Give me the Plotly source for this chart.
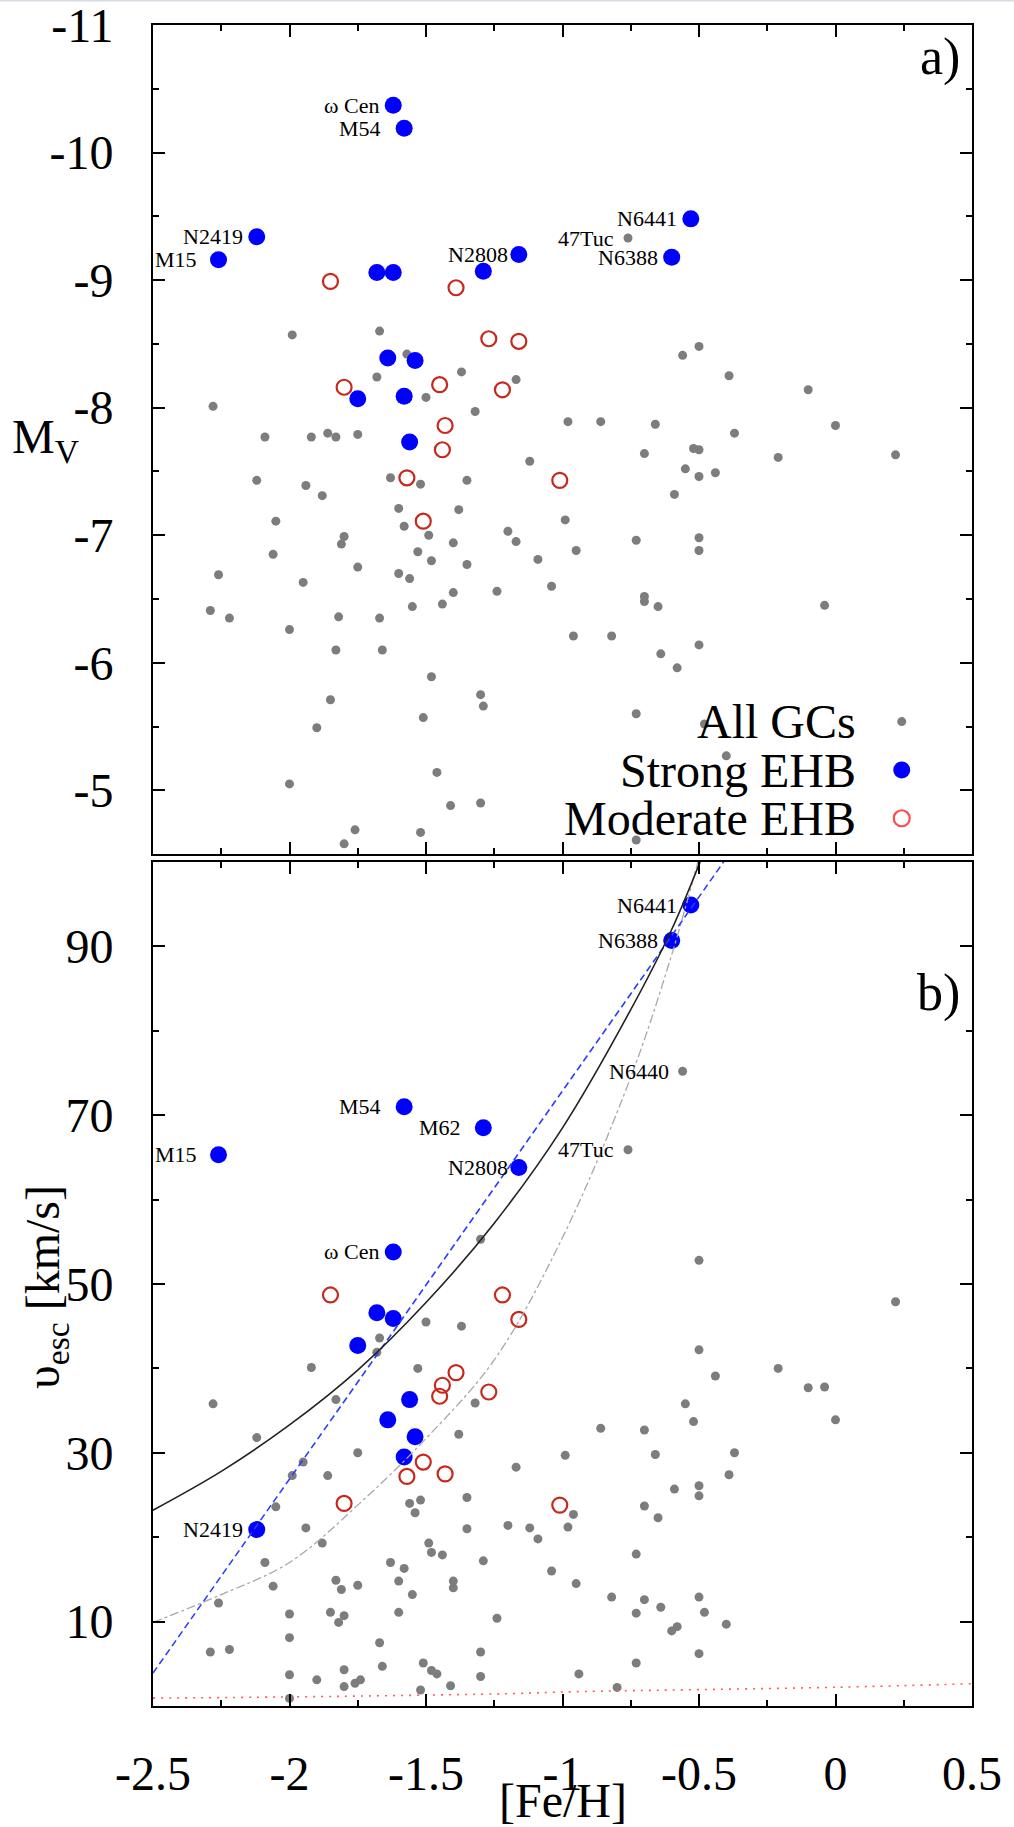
import plotly.graph_objects as go
from plotly.subplots import make_subplots

FONT = "Liberation Serif"

# ---------------------------------------------------------------------------
# All Galactic globular clusters -- panel a): [Fe/H] vs absolute magnitude M_V
all_feh_a = [-1.99, -1.67, -1.57, -1.68, -1.37, -1.17, -2.28, -1.50, -1.32, -2.09,
             -1.92, -1.86, -1.83, -1.75, -2.12, -1.94, -1.88, -1.63, -1.52, -1.35,
             -1.60, -1.38, -2.05, -1.58, -1.80, -1.81, -1.49, -1.40, -1.20, -1.17,
             -2.06, -1.53, -1.48, -1.35, -1.75, -2.26, -1.60, -1.56, -1.95, -1.40,
             -1.24, -2.29, -2.22, -1.82, -1.67, -1.55, -1.44, -2.00, -1.83, -1.66,
             -1.48, -1.85, -1.30, -1.29, -1.51, -1.90, -2.00, -1.46, -1.41, -1.30,
             -1.76, -1.52, -1.80, -0.98, -0.86, -0.66, -0.37, 0.00, -1.12, -0.70,
             -0.52, -0.50, -0.21, 0.22, -0.55, -0.50, -0.44, -0.59, -0.99, -0.73,
             -0.50, -0.50, -0.95, -1.09, -1.04, -0.70, -0.70, -0.65, -0.04, -0.96,
             -0.82, -0.50, -0.64, -0.58, -0.73, -0.48, -0.40, -0.73, -0.10, -0.39,
             -0.50]
all_mv = [-8.57, -8.60, -8.42, -8.24, -8.28, -8.22, -8.01, -8.08, -7.97, -7.77,
          -7.77, -7.80, -7.77, -7.79, -7.43, -7.39, -7.31, -7.45, -7.40, -7.43,
          -7.21, -7.20, -7.11, -7.07, -6.99, -6.93, -7.00, -6.94, -7.03, -6.95,
          -6.85, -6.87, -6.80, -6.77, -6.75, -6.69, -6.70, -6.66, -6.63, -6.55,
          -6.56, -6.41, -6.35, -6.36, -6.35, -6.44, -6.46, -6.26, -6.10, -6.10,
          -5.89, -5.71, -5.75, -5.66, -5.57, -5.49, -5.05, -5.14, -4.88, -4.90,
          -4.69, -4.67, -4.58, -7.89, -7.89, -7.87, -7.80, -7.86, -7.58, -7.64,
          -7.68, -7.67, -7.61, -7.63, -7.52, -7.46, -7.49, -7.32, -7.12, -6.96,
          -6.98, -6.88, -6.88, -6.81, -6.60, -6.52, -6.48, -6.44, -6.45, -6.21,
          -6.21, -6.14, -6.07, -5.96, -5.60, -5.52, -5.27, -4.61, -8.14, -8.25,
          -8.48]

# All Galactic globular clusters -- panel b): [Fe/H] vs central escape velocity
all_feh_b = [-1.50, -1.37, -1.67, -1.68, -1.92, -1.53, -2.28, -1.83, -1.32, -2.12,
             -1.38, -1.75, -1.95, -1.99, -1.86, -1.17, -2.05, -1.35, -1.56, -1.52,
             -1.54, -1.94, -1.35, -1.20, -1.88, -1.49, -1.48, -1.44, -2.09, -1.63,
             -1.29, -1.58, -1.83, -1.60, -1.40, -1.40, -1.81, -1.75, -2.06, -1.55,
             -2.26, -2.00, -1.85, -1.80, -1.82, -1.60, -1.24, -2.00, -1.67, -2.29,
             -2.22, -1.30, -1.66, -2.00, -1.80, -1.51, -1.48, -1.46, -1.30, -1.90,
             -1.76, -1.74, -1.80, -1.41, -1.52, -2.00, -1.30,
             -0.50, 0.22, -0.50, -0.44, -0.21, -0.10, -0.04, -0.55, -0.52, 0.00,
             -0.86, -0.70, -0.99, -0.66, -0.37, -0.39, -0.59, -0.50, -0.50, -0.70,
             -0.96, -1.12, -0.98, -0.65, -1.09, -0.73, -1.04, -0.95, -0.82, -0.70,
             -0.50, -0.64, -0.73, -0.48, -0.60, -0.58, -0.40, -0.50, -0.73, -0.94,
             -0.80]
all_vesc = [45.5, 45.0, 43.6, 41.9, 40.1, 40.0, 35.8, 36.3, 35.9, 31.8,
            32.2, 30.0, 28.9, 27.3, 27.3, 28.3, 23.6, 24.7, 24.0, 24.4,
            22.9, 21.1, 21.0, 21.4, 19.3, 19.3, 18.2, 17.9, 17.0, 17.0,
            17.2, 16.3, 14.9, 14.8, 14.8, 14.0, 13.8, 14.3, 14.2, 13.2,
            12.2, 10.9, 11.1, 10.7, 9.9, 11.1, 10.4, 8.1, 7.5, 6.4,
            6.7, 6.4, 4.7, 3.7, 4.3, 5.1, 4.2, 3.8, 3.5, 3.1,
            2.7, 3.1, 2.3, 2.4, 1.9, 0.9, 55.3,
            52.8, 47.9, 42.2, 39.1, 40.0, 37.7, 37.8, 35.8, 33.7, 33.9,
            32.9, 32.7, 29.7, 29.8, 30.0, 27.4, 25.7, 26.1, 24.9, 23.7,
            22.7, 21.1, 21.2, 22.3, 19.8, 18.0, 16.0, 14.5, 12.9, 12.6,
            12.9, 11.7, 11.0, 11.1, 8.9, 9.4, 9.7, 6.2, 5.1, 3.8,
            2.2]

# Named clusters that belong to the "All GCs" sample
ref_names = ["47Tuc", "N6440"]
ref_feh = [-0.76, -0.56]
ref_mv = [-9.33, -8.41]
ref_vesc = [65.9, 75.2]

# Clusters with a strong extreme horizontal branch (same order in both panels)
strong_names = ["ω Cen", "M54", "N2419", "M15", "M62", "N2808", "N6441", "N6388",
                "", "", "", "", "", "", ""]
strong_feh = [-1.62, -1.58, -2.12, -2.26, -1.29, -1.16, -0.53, -0.60,
              -1.68, -1.62, -1.64, -1.54, -1.75, -1.58, -1.56]
strong_mv = [-10.37, -10.19, -9.34, -9.16, -9.07, -9.20, -9.48, -9.18,
             -9.06, -9.06, -8.39, -8.37, -8.07, -8.09, -7.73]
strong_vesc = [53.8, 71.0, 20.9, 65.3, 68.5, 63.8, 94.9, 90.7,
               46.6, 45.9, 33.9, 31.9, 42.7, 29.5, 36.3]

# Clusters with a moderate extreme horizontal branch
moderate_feh = [-1.85, -1.80, -1.57, -1.51, -1.45, -1.44, -1.43, -1.39,
                -1.27, -1.22, -1.16, -1.01]
moderate_mv = [-8.99, -8.16, -7.45, -7.11, -8.18, -7.67, -7.86, -8.94,
               -8.54, -8.14, -8.52, -7.43]
moderate_vesc = [48.7, 24.0, 27.2, 28.9, 36.7, 38.0, 27.5, 39.5,
                 37.2, 48.7, 45.8, 23.8]

# Relations drawn in panel b)
fit_feh = [-2.5, -2.25, -2.0, -1.75, -1.5, -1.25, -1.0, -0.75, -0.6, -0.49]
fit_vesc = [23.2, 27.8, 33.3, 39.8, 47.8, 57.2, 68.5, 82.5, 92.0, 100.5]
lin_feh = [-2.5, -0.41]
lin_vesc = [3.9, 100.0]
dashdot_feh = [-2.5, -2.25, -2.0, -1.75, -1.5, -1.25, -1.0, -0.75, -0.6, -0.5]
dashdot_vesc = [9.9, 13.2, 17.0, 23.8, 31.7, 41.0, 55.5, 74.5, 89.0, 100.5]
floor_feh = [-2.5, -1.83, -1.16, -1.0, 0.0, 0.5]
floor_vesc = [0.93, 1.14, 1.49, 1.66, 2.22, 2.64]

# Axis ticks
feh_tick_vals = [-2.5, -2, -1.5, -1, -0.5, 0, 0.5]
feh_tick_text = ["-2.5", "-2", "-1.5", "-1", "-0.5", "0", "0.5"]
feh_minor_vals = [-2.25, -1.75, -1.25, -0.75, -0.25, 0.25]
mv_tick_vals = [-11, -10, -9, -8, -7, -6, -5]
mv_tick_text = ["-11", "-10", "-9", "-8", "-7", "-6", "-5"]
mv_minor_vals = [-10.5, -9.5, -8.5, -7.5, -6.5, -5.5]
vesc_tick_vals = [10, 30, 50, 70, 90]
vesc_tick_text = ["10", "30", "50", "70", "90"]
vesc_minor_vals = [20, 40, 60, 80]

legend_labels = ["All GCs", "Strong EHB", "Moderate EHB"]

# ---------------------------------------------------------------------------
GRAY = "#7d7d7d"
BLUE = "#0000ff"
RED = "#c8281c"

fig = make_subplots(rows=2, cols=1)

for row, fy_all, fy_ref, fy_strong, fy_mod, fx_all in [
    (1, all_mv, ref_mv, strong_mv, moderate_mv, all_feh_a),
    (2, all_vesc, ref_vesc, strong_vesc, moderate_vesc, all_feh_b),
]:
    fig.add_trace(go.Scatter(x=fx_all + ref_feh, y=fy_all + fy_ref, mode="markers",
                             marker=dict(size=9, color=GRAY),
                             name=legend_labels[0], showlegend=False), row=row, col=1)
    # open symbols take their stroke colour from marker.color
    fig.add_trace(go.Scatter(x=moderate_feh, y=fy_mod, mode="markers",
                             marker=dict(size=15, color=RED, symbol="circle-open",
                                         line=dict(width=2.2)),
                             name=legend_labels[2], showlegend=False), row=row, col=1)
    fig.add_trace(go.Scatter(x=strong_feh, y=fy_strong, mode="markers",
                             marker=dict(size=17, color=BLUE),
                             name=legend_labels[1], showlegend=False), row=row, col=1)

# Relations in panel b)
fig.add_trace(go.Scatter(x=floor_feh, y=floor_vesc, mode="lines", line_shape="spline",
                         line=dict(color="#ff5a5a", width=1.6, dash="2px,6px"),
                         showlegend=False), row=2, col=1)
fig.add_trace(go.Scatter(x=dashdot_feh, y=dashdot_vesc, mode="lines", line_shape="spline",
                         line=dict(color="#a8a8a8", width=1.3, dash="dashdot"),
                         showlegend=False), row=2, col=1)
fig.add_trace(go.Scatter(x=lin_feh, y=lin_vesc, mode="lines",
                         line=dict(color="#2a3cff", width=1.6, dash="7px,4px"),
                         showlegend=False), row=2, col=1)
fig.add_trace(go.Scatter(x=fit_feh, y=fit_vesc, mode="lines", line_shape="spline",
                         line=dict(color="#222222", width=1.6),
                         showlegend=False), row=2, col=1)

# Cluster name labels, placed just left of their markers
label_gap = {"M15": 20, "M54": 21, "M62": 20, "N2808": 9}
LABEL_FONT = dict(family=FONT, size=22, color="black")


def label(name, fx, fy, xref, yref):
    fig.add_annotation(x=fx, y=fy, xref=xref, yref=yref, text=name, showarrow=False,
                       xanchor="right", yanchor="middle", xshift=-label_gap.get(name, 12),
                       font=LABEL_FONT)


for name, fx, fmv, fv in zip(strong_names, strong_feh, strong_mv, strong_vesc):
    if not name:
        continue
    if name != "M62":
        label(name, fx, fmv, "x", "y")
    label(name, fx, fv, "x2", "y2")
for name, fx, fmv, fv in zip(ref_names, ref_feh, ref_mv, ref_vesc):
    if name == "47Tuc":
        label(name, fx, fmv, "x", "y")
    label(name, fx, fv, "x2", "y2")

# ---------------------------------------------------------------------------
TICKFONT = dict(family=FONT, size=48, color="black")
axis_common = dict(showline=True, linecolor="black", linewidth=2, mirror="ticks",
                   ticks="inside", ticklen=12, tickwidth=2, tickcolor="black",
                   showgrid=False, zeroline=False, tickfont=TICKFONT,
                   ticklabeloverflow="allow", automargin=False)

fig.update_xaxes(range=[-2.5, 0.5], tickmode="array", tickvals=feh_tick_vals,
                 ticktext=feh_tick_text,
                 minor=dict(tickmode="array", tickvals=feh_minor_vals, ticks="inside",
                            ticklen=6, tickwidth=2, tickcolor="black"),
                 **axis_common)
fig.update_xaxes(showticklabels=False, row=1, col=1)
fig.update_xaxes(showticklabels=True, ticklabelstandoff=24, row=2, col=1)

fig.update_yaxes(range=[-4.5, -11], tickmode="array", tickvals=mv_tick_vals,
                 ticktext=mv_tick_text, ticklabelstandoff=28,
                 minor=dict(tickmode="array", tickvals=mv_minor_vals, ticks="inside",
                            ticklen=6, tickwidth=2, tickcolor="black"),
                 domain=[0.5068, 1.0], row=1, col=1, **axis_common)
fig.update_yaxes(range=[0, 100], tickmode="array", tickvals=vesc_tick_vals,
                 ticktext=vesc_tick_text, ticklabelstandoff=28,
                 minor=dict(tickmode="array", tickvals=vesc_minor_vals, ticks="inside",
                            ticklen=6, tickwidth=2, tickcolor="black"),
                 domain=[0.0, 0.5021], row=2, col=1, **axis_common)

# Axis titles and panel tags
BIG = dict(family=FONT, size=48, color="black")
fig.add_annotation(xref="paper", yref="paper", x=-0.1746, y=0.7531, xanchor="left",
                   yanchor="middle", text="M<sub>V</sub>", showarrow=False, font=BIG)
fig.add_annotation(xref="paper", yref="paper", x=-0.1306, y=0.2493, xanchor="center",
                   yanchor="middle", text="υ<sub>esc</sub> [km/s]", textangle=-90,
                   showarrow=False, font=BIG)
fig.add_annotation(xref="paper", yref="paper", x=0.5, y=-0.0565, xanchor="center",
                   yanchor="middle", text="[Fe/H]", showarrow=False, font=BIG)
fig.add_annotation(xref="paper", yref="paper", x=0.988, y=0.981, xanchor="right",
                   yanchor="middle", text="a)", showarrow=False,
                   font=dict(family=FONT, size=52, color="black"))
fig.add_annotation(xref="paper", yref="paper", x=0.988, y=0.4242, xanchor="right",
                   yanchor="middle", text="b)", showarrow=False,
                   font=dict(family=FONT, size=52, color="black"))

# Key in panel a): labels right-aligned, symbols to their right
key_rows = [0.5856, 0.5568, 0.5281]
key_styles = [
    dict(r=4.5, fill=GRAY, line=dict(width=0)),
    dict(r=8.5, fill=BLUE, line=dict(width=0)),
    dict(r=8.0, fill="rgba(0,0,0,0)", line=dict(color="#ff4b4b", width=2.2)),
]
for text, ky, st in zip(legend_labels, key_rows, key_styles):
    fig.add_annotation(xref="paper", yref="paper", x=0.8608, y=ky, xanchor="right",
                       yanchor="middle", text=text, showarrow=False, font=BIG)
    fig.add_shape(type="circle", xref="paper", yref="paper", xsizemode="pixel",
                  ysizemode="pixel", xanchor=0.9142, yanchor=ky,
                  x0=-st["r"], x1=st["r"], y0=-st["r"], y1=st["r"],
                  fillcolor=st["fill"], line=st["line"])

# thin light rule along the top edge of the page
fig.add_shape(type="line", xref="paper", yref="paper", x0=-0.19, x1=1.06,
              y0=1.0146, y1=1.0146, line=dict(color="#d5dbe2", width=2))

fig.update_layout(width=1014, height=1827, paper_bgcolor="white", plot_bgcolor="white",
                  margin=dict(l=153, r=42, t=25, b=121, autoexpand=False),
                  showlegend=False, font=dict(family=FONT, color="black"))

fig.write_html("out.html")
